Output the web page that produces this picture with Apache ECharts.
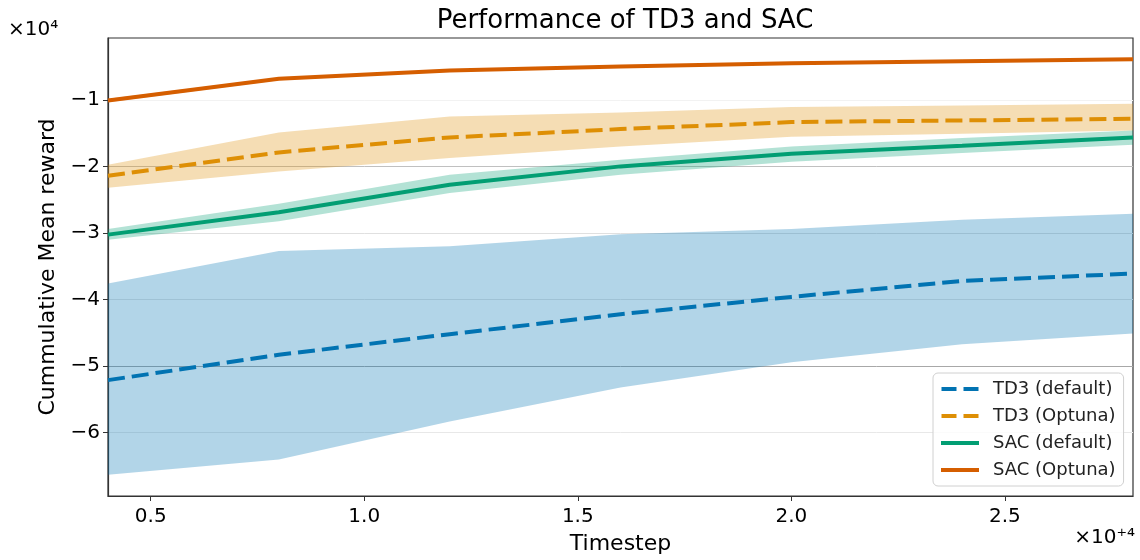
<!DOCTYPE html>
<html>
<head>
<meta charset="utf-8">
<title>Performance of TD3 and SAC</title>
<script src="https://cdn.jsdelivr.net/npm/echarts@6/dist/echarts.min.js"></script>
<style>
  html, body { margin: 0; padding: 0; background: #fff; }
  #chart { width: 1140px; height: 560px; }
</style>
</head>
<body>
<div id="chart"></div>
<script>
// timesteps and rewards
const steps = [4000, 8000, 12000, 16000, 20000, 24000, 28000]
const xTicks = [5000, 10000, 15000, 20000, 25000]
const yTicks = [-60000, -50000, -40000, -30000, -20000, -10000]

const td3DefMean = [-52100, -48300, -45200, -42200, -39600, -37200, -36100]
const td3DefHigh = [-37600, -32700, -32000, -30200, -29400, -28000, -27100]
const td3DefLow = [-66300, -64000, -58300, -53200, -49400, -46700, -45100]

const td3OptMean = [-21400, -17900, -15650, -14400, -13350, -13100, -12850]
const td3OptHigh = [-19750, -14900, -12500, -11900, -11100, -10850, -10600]
const td3OptLow = [-23200, -20750, -18750, -17000, -15550, -15100, -14600]

const sacDefMean = [-30250, -26900, -22750, -20000, -18100, -16900, -15650]
const sacDefHigh = [-29400, -25600, -21250, -19000, -17000, -15750, -14600]
const sacDefLow = [-31000, -28250, -24000, -21250, -19300, -18000, -16750]

const sacOptMean = [-10100, -6850, -5600, -5000, -4500, -4200, -3900]
const sacOptHigh = [-9850, -6650, -5450, -4850, -4350, -4050, -3750]
const sacOptLow = [-10350, -7050, -5750, -5150, -4650, -4350, -4050]

const names = ['TD3 (default)', 'TD3 (Optuna)', 'SAC (default)', 'SAC (Optuna)']
const colors = ['#0173B2', '#DE8F05', '#029E73', '#D55E00']

const font = 'DejaVu Sans'
const dashIcon = 'path://M0,0H15V4H0ZM22,0H37V4H22Z'
const solidIcon = 'path://M0,0H38V4H0Z'

function pairs (ys) {
  return steps.map((x, i) => [x, ys[i]])
}

// shaded band between low and high, drawn once as one polygon
function band (low, high, color) {
  return {
    type: 'custom',
    data: steps.map((x, i) => [x, low[i], high[i]]),
    encode: { x: 0, y: [1, 2] },
    silent: true,
    renderItem: function (params, api) {
      if (params.dataIndex !== 0) return
      const top = []
      const bottom = []
      for (let j = 0; j < steps.length; j++) {
        const x = api.value(0, j)
        bottom.push(api.coord([x, api.value(1, j)]))
        top.push(api.coord([x, api.value(2, j)]))
      }
      return {
        type: 'polygon',
        shape: { points: bottom.concat(top.reverse()) },
        style: { fill: color, opacity: 0.3 }
      }
    }
  }
}

function meanLine (name, ys, color, dashed) {
  return {
    name: name,
    type: 'line',
    data: pairs(ys),
    showSymbol: false,
    symbol: 'none',
    color: color,
    lineStyle: {
      color: color,
      width: 4,
      type: dashed ? [17, 7] : 'solid',
      cap: 'butt'
    }
  }
}

const series = [
  band(td3DefLow, td3DefHigh, colors[0]),
  meanLine(names[0], td3DefMean, colors[0], true),
  band(td3OptLow, td3OptHigh, colors[1]),
  meanLine(names[1], td3OptMean, colors[1], true),
  band(sacDefLow, sacDefHigh, colors[2]),
  meanLine(names[2], sacDefMean, colors[2], false),
  band(sacOptLow, sacOptHigh, colors[3]),
  meanLine(names[3], sacOptMean, colors[3], false)
]

const option = {
  animation: false,
  backgroundColor: '#fff',
  textStyle: { fontFamily: font },
  title: {
    text: 'Performance of TD3 and SAC',
    left: 620,
    top: 3,
    textAlign: 'center',
    textStyle: { fontFamily: font, fontSize: 26, fontWeight: 'normal', color: '#000' }
  },
  grid: {
    left: 108,
    right: 7,
    top: 38,
    bottom: 63.5,
    show: true,
    borderColor: '#333',
    borderWidth: 1.2,
    backgroundColor: 'transparent'
  },
  legend: {
    data: names.map((n, i) => ({ name: n, icon: i < 2 ? dashIcon : solidIcon })),
    orient: 'vertical',
    left: 933,
    top: 373,
    padding: [7, 8, 7, 8],
    itemWidth: 38,
    itemHeight: 4,
    itemGap: 9,
    backgroundColor: 'rgba(255,255,255,0.8)',
    borderColor: '#d0d0d0',
    borderWidth: 1,
    borderRadius: 5,
    textStyle: { fontFamily: font, fontSize: 18, color: '#222', lineHeight: 18, padding: [0, 0, 0, 9] }
  },
  xAxis: {
    type: 'value',
    min: 4000,
    max: 28000,
    name: 'Timestep',
    nameLocation: 'middle',
    nameGap: 37,
    nameTextStyle: { fontFamily: font, fontSize: 22, color: '#000' },
    axisLine: { show: true, lineStyle: { color: '#333', width: 1.2 } },
    axisTick: { show: true, inside: false, length: 5, customValues: xTicks, lineStyle: { color: '#333' } },
    axisLabel: {
      customValues: xTicks,
      margin: 11,
      fontFamily: font,
      fontSize: 20,
      color: '#000',
      formatter: v => (v / 10000).toFixed(1)
    },
    splitLine: { show: false }
  },
  yAxis: {
    type: 'value',
    min: -69500,
    max: -720,
    name: 'Cummulative Mean reward',
    nameLocation: 'middle',
    nameGap: 45,
    nameTextStyle: { fontFamily: font, fontSize: 22, color: '#000' },
    axisLine: { show: true, lineStyle: { color: '#333', width: 1.2 } },
    axisTick: { show: true, inside: false, length: 5, customValues: yTicks, lineStyle: { color: '#333' } },
    axisLabel: {
      customValues: yTicks,
      margin: 8,
      fontFamily: font,
      fontSize: 20,
      color: '#000',
      formatter: v => '\u2212' + Math.abs(v / 10000)
    },
    splitLine: {
      show: true,
      lineStyle: { color: ['#e8e8e8', '#a8a8a8', '#e4e4e4', '#e0e0e0', '#c0c0c0', '#f2f2f2'], width: 1 }
    }
  },
  graphic: [
    {
      type: 'text',
      left: 8,
      top: 20,
      style: { text: '\u00d710\u2074', fontFamily: font, fontSize: 20, fill: '#000' }
    },
    {
      type: 'text',
      right: 5,
      top: 528,
      style: { text: '\u00d710\u207a\u2074', fontFamily: font, fontSize: 20, fill: '#000' }
    }
  ],
  series: series
}

const chart = echarts.init(document.getElementById('chart'))
chart.setOption(option)
window.addEventListener('resize', () => chart.resize())
</script>
</body>
</html>
